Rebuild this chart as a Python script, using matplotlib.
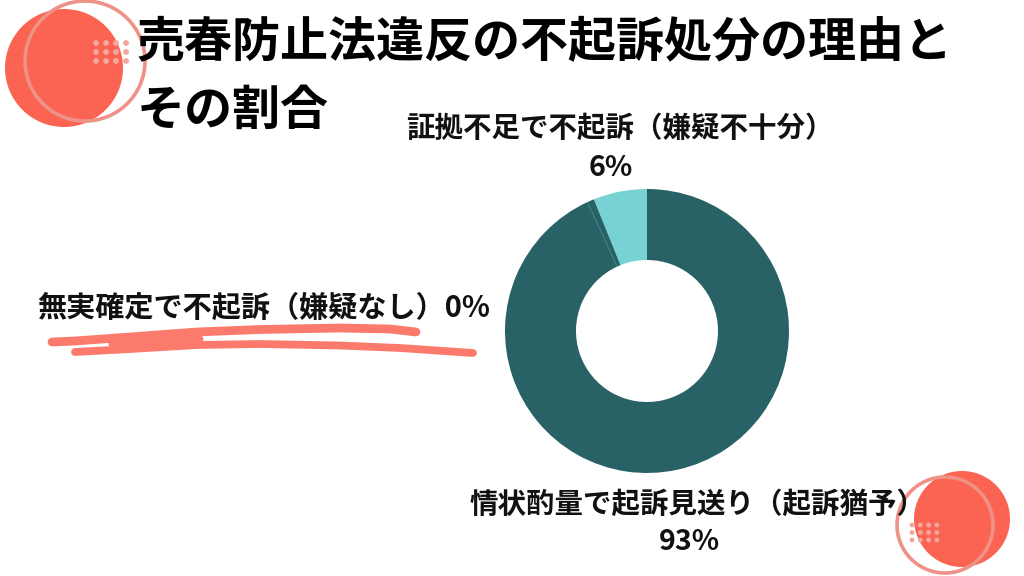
import numpy as np
import matplotlib
matplotlib.use("Agg")
import matplotlib.pyplot as plt
from matplotlib.patches import Circle

plt.rcParams["font.family"] = "Noto Sans CJK JP"

# data
categories = ["証拠不足で不起訴（嫌疑不十分）", "無実確定で不起訴（嫌疑なし）", "情状酌量で起訴見送り（起訴猶予）"]
shares = [6.1, 0.8, 93.1]
share_labels = ["6%", "0%", "93%"]
title_lines = ["売春防止法違反の不起訴処分の理由と", "その割合"]
slice_colors = ["#76d2d3", "#296266", "#296266"]

W, H = 1024, 576
fig = plt.figure(figsize=(W / 100, H / 100), dpi=100)

# background layer in pixel coordinates
bg = fig.add_axes([0, 0, 1, 1])
bg.set_xlim(0, W)
bg.set_ylim(H, 0)
bg.axis("off")

RED = "#fb6352"
RING = "#ee9186"
DOT = "#f3a79d"
STROKE = "#fb7a6c"


def badge(red, ring, dots, step, dot_r):
    bg.add_patch(Circle(red[:2], red[2], fc=RED, ec="none"))
    bg.add_patch(Circle(ring[:2], ring[2], fc="none", ec=RING, lw=2.6))
    for i in range(4):
        for j in range(3):
            bg.add_patch(Circle((dots[0] + i * step[0], dots[1] + j * step[1]), dot_r, fc=DOT, ec="none", zorder=3))


badge((64, 68, 59), (85, 61, 60), (96, 43), (10, 9), 2.9)
badge((962, 519, 48), (945, 525, 48), (912, 525), (8.3, 7.5), 2.4)

# hand drawn underline
bg.plot([52, 75, 130, 197, 260, 340, 390, 416], [342, 341, 337, 332, 329.5, 328, 329, 332],
        color=STROKE, lw=6.3, solid_capstyle="round", zorder=2)
bg.plot([75, 130, 197, 260, 340, 400, 473], [352, 349, 345, 344, 345.5, 348, 353],
        color=STROKE, lw=5.6, solid_capstyle="round", zorder=2)
bg.plot([112, 200], [344, 339], color=STROKE, lw=5, solid_capstyle="round", zorder=2)

# donut, centre (647, 331), outer radius 142
cx, cy, R = 647, 331, 142
ax = fig.add_axes([(cx - R) / W, 1 - (cy + R) / H, 2 * R / W, 2 * R / H])
ax.pie(shares, colors=slice_colors, startangle=90, counterclock=True, radius=1.0,
       wedgeprops=dict(width=0.5, edgecolor="none"))
ax.set_xlim(-1, 1)
ax.set_ylim(-1, 1)
# thin seam between the two dark slices
seam = np.deg2rad(90 + (shares[0] + shares[1]) * 3.6)
ax.plot([0.98 * np.cos(seam), 0.51 * np.cos(seam)], [0.98 * np.sin(seam), 0.51 * np.sin(seam)],
        color="#3a7f83", lw=0.8)

# title
bg.text(137, 43, title_lines[0], fontsize=34.6, fontweight="bold", color="black", va="center", ha="left", zorder=5)
bg.text(137, 110, title_lines[1], fontsize=34.6, fontweight="bold", color="black", va="center", ha="left", zorder=5)

# labels
label_size = 20.5
bg.text(620, 129, categories[0], fontsize=label_size, fontweight="bold", color="#111111", ha="center", va="center", zorder=5)
bg.text(611, 168, share_labels[0], fontsize=label_size, fontweight="bold", color="#111111", ha="center", va="center", zorder=5)
bg.text(37, 308, categories[1] + share_labels[1], fontsize=21, fontweight="bold", color="#111111", ha="left", va="center", zorder=5)
bg.text(698, 505, categories[2], fontsize=label_size, fontweight="bold", color="#111111", ha="center", va="center", zorder=5)
bg.text(689, 542, share_labels[2], fontsize=label_size, fontweight="bold", color="#111111", ha="center", va="center", zorder=5)

fig.savefig("out.png", dpi=100)
